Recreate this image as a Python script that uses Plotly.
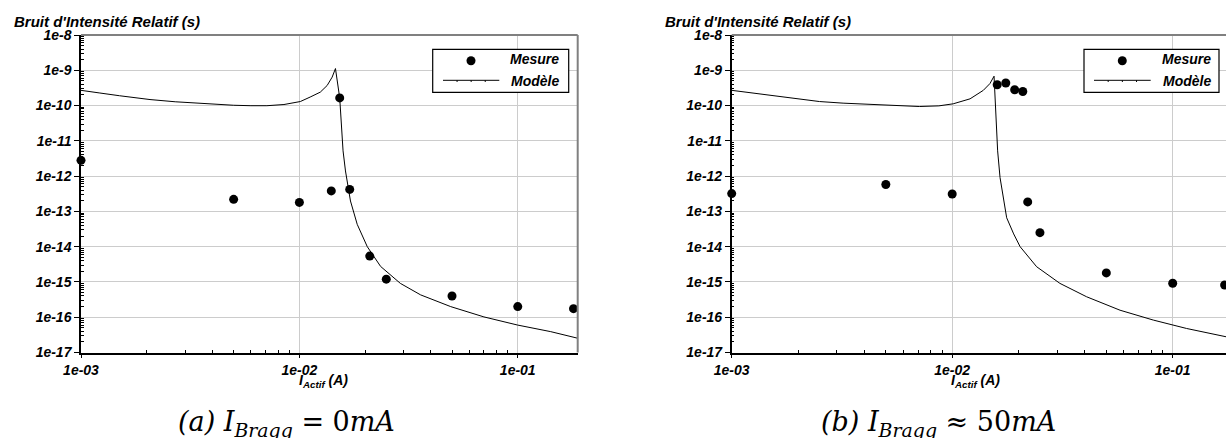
import plotly.graph_objects as go

# ---------------- data ----------------
left_mesure_x = [1e-3, 5e-3, 1e-2, 1.4e-2, 1.53e-2, 1.7e-2, 2.1e-2, 2.5e-2, 5e-2, 1e-1, 1.8e-1]
left_mesure_y = [2.8e-12, 2.2e-13, 1.8e-13, 3.8e-13, 1.65e-10, 4.2e-13, 5.4e-15, 1.2e-15, 4.0e-16, 2.0e-16, 1.75e-16]

left_model_x = [1.0e-3, 1.1e-3, 1.22e-3, 1.5e-3, 2.07e-3, 2.7e-3, 3.52e-3, 4.2e-3, 5.0e-3, 6.0e-3, 7.1e-3,
                8.5e-3, 1.01e-2, 1.12e-2, 1.247e-2, 1.34e-2, 1.413e-2, 1.463e-2, 1.53e-2, 1.585e-2,
                1.626e-2, 1.714e-2, 1.84e-2, 2.046e-2, 2.355e-2, 2.90e-2, 3.59e-2, 4.93e-2, 7.0e-2,
                9.98e-2, 1.416e-1, 1.90e-1]
left_model_y = [2.7e-10, 2.45e-10, 2.27e-10, 1.9e-10, 1.48e-10, 1.28e-10, 1.16e-10, 1.07e-10, 1.02e-10,
                9.9e-11, 9.9e-11, 1.07e-10, 1.3e-10, 1.74e-10, 2.4e-10, 3.7e-10, 6.4e-10, 1.12e-9,
                1.65e-10, 5.2e-12, 1.4e-12, 1.97e-13, 4.3e-14, 1.0e-14, 2.75e-15, 9.1e-16, 4.3e-16,
                2.0e-16, 1.02e-16, 6.0e-17, 3.9e-17, 2.5e-17]

right_mesure_x = [1e-3, 5e-3, 1e-2, 1.6e-2, 1.75e-2, 1.92e-2, 2.09e-2, 2.2e-2, 2.5e-2, 5e-2, 1e-1, 1.72e-1]
right_mesure_y = [3.2e-13, 5.8e-13, 3.1e-13, 3.9e-10, 4.35e-10, 2.8e-10, 2.5e-10, 1.86e-13, 2.5e-14, 1.8e-15, 9.2e-16, 8.2e-16]

right_model_x = [1.0e-3, 1.2e-3, 1.41e-3, 1.9e-3, 2.5e-3, 3.2e-3, 3.98e-3, 5.2e-3, 7.1e-3, 8.7e-3, 1.01e-2,
                 1.205e-2, 1.384e-2, 1.483e-2, 1.548e-2, 1.607e-2, 1.648e-2, 1.766e-2, 1.9e-2, 2.032e-2,
                 2.415e-2, 3.08e-2, 4.07e-2, 5.77e-2, 8.17e-2, 1.156e-1, 1.75e-1, 1.9e-1]
right_model_y = [2.7e-10, 2.35e-10, 2.1e-10, 1.6e-10, 1.3e-10, 1.17e-10, 1.1e-10, 1.0e-10, 9.4e-11,
                 9.8e-11, 1.12e-10, 1.55e-10, 2.7e-10, 4.2e-10, 6.8e-10, 5.2e-12, 9.1e-13, 6.6e-14,
                 2.3e-14, 1.0e-14, 2.7e-15, 9.1e-16, 3.8e-16, 1.58e-16, 8.3e-17, 4.8e-17, 2.75e-17, 2.5e-17]

y_tickvals = [1e-17, 1e-16, 1e-15, 1e-14, 1e-13, 1e-12, 1e-11, 1e-10, 1e-9, 1e-8]
y_ticktext = ["1e-17", "1e-16", "1e-15", "1e-14", "1e-13", "1e-12", "1e-11", "1e-10", "1e-9", "1e-8"]
x_tickvals = [1e-3, 1e-2, 1e-1]
x_ticktext = ["1e-03", "1e-02", "1e-01"]

y_title = "Bruit d'Intensité Relatif (s)"
x_title = "<i>I</i><sub>Actif</sub> (A)"
legend_names = ["Mesure", "Modèle"]
captions = ["<i>(a) I</i><sub><i>Bragg</i></sub> = 0<i>mA</i>",
            "<i>(b) I</i><sub><i>Bragg</i></sub> ≈ 50<i>mA</i>"]

# ---------------- layout helpers ----------------
W, H = 1226, 438
def px(x):
    return x / W
def py(y):
    return 1 - y / H

SANS = "Liberation Sans"
def bi(size):
    return dict(family=SANS, size=size, color="black", weight="bold", style="italic")

minor_y = [m * 10.0 ** e for e in range(-17, -8) for m in range(2, 10)]
minor_x = [m * 10.0 ** e for e in range(-3, 0) for m in range(2, 10)]

fig = go.Figure()

mk = dict(color="black", size=9, symbol="circle")
fig.add_trace(go.Scatter(x=left_model_x, y=left_model_y, mode="lines",
                         line=dict(color="black", width=1), xaxis="x", yaxis="y", showlegend=False))
fig.add_trace(go.Scatter(x=left_mesure_x, y=left_mesure_y, mode="markers", marker=mk,
                         cliponaxis=False, xaxis="x", yaxis="y", showlegend=False))
fig.add_trace(go.Scatter(x=right_model_x, y=right_model_y, mode="lines",
                         line=dict(color="black", width=1), xaxis="x2", yaxis="y2", showlegend=False))
fig.add_trace(go.Scatter(x=right_mesure_x, y=right_mesure_y, mode="markers", marker=mk,
                         cliponaxis=False, xaxis="x2", yaxis="y2", showlegend=False))

ydom = [py(352.5), py(35)]
left_xdom = [px(81), px(577.7)]
right_xdom = [px(731.7), 1.0]

def xaxis(dom, rng, anchor):
    return dict(type="log", domain=dom, range=rng, anchor=anchor, automargin=False,
                tickmode="array", tickvals=x_tickvals, ticktext=x_ticktext,
                ticks="outside", ticklen=4, tickwidth=1, tickcolor="black",
                tickfont=bi(14), showline=True, linecolor="black", linewidth=1.5,
                showgrid=True, gridcolor="#cccccc", gridwidth=1, zeroline=False,
                minor=dict(tickmode="array", tickvals=minor_x, ticks="inside", ticklen=3,
                           tickcolor="black", tickwidth=1, showgrid=False))

def yaxis(anchor):
    return dict(type="log", domain=ydom, range=[-17, -8], anchor=anchor, automargin=False,
                tickmode="array", tickvals=y_tickvals, ticktext=y_ticktext,
                ticks="outside", ticklen=5, tickwidth=1, tickcolor="black",
                tickfont=bi(14), showline=True, linecolor="black", linewidth=1.5,
                showgrid=True, gridcolor="#cccccc", gridwidth=1, zeroline=False,
                minor=dict(tickmode="array", tickvals=minor_y, ticks="inside", ticklen=3,
                           tickcolor="black", tickwidth=1, showgrid=False))

fig.update_layout(
    width=W, height=H, margin=dict(l=0, r=0, t=0, b=0, autoexpand=False),
    paper_bgcolor="white", plot_bgcolor="white", showlegend=False,
    xaxis=xaxis(left_xdom, [-3, -0.7255], "y"),
    yaxis=yaxis("x"),
    xaxis2=xaxis(right_xdom, [-3, -0.7583], "y2"),
    yaxis2=yaxis("x2"),
)

shapes = []
annotations = []
for xr, yr, right in [("x domain", "y domain", True), ("x2 domain", "y2 domain", False)]:
    shapes.append(dict(type="line", xref=xr, yref=yr, x0=0, x1=1, y0=1, y1=1,
                       line=dict(color="#808080", width=2)))
    if right:
        shapes.append(dict(type="line", xref=xr, yref=yr, x0=1, x1=1, y0=0, y1=1,
                           line=dict(color="#808080", width=2)))

panels = [
    dict(title_x=12, leg=(432.7, 568.7), mark=471, line=(443, 499.3), txt_end=561,
         xt=323.5, cap=286.5),
    dict(title_x=663, leg=(1084, 1219), mark=1122.3, line=(1094, 1150.7), txt_end=1213,
         xt=975, cap=938),
]
for i, p in enumerate(panels):
    annotations.append(dict(text=y_title, xref="paper", yref="paper", x=px(p["title_x"]), y=py(21.5),
                            xanchor="left", yanchor="middle", showarrow=False, font=bi(15)))
    annotations.append(dict(text=x_title, xref="paper", yref="paper", x=px(p["xt"]), y=py(381),
                            xanchor="center", yanchor="middle", showarrow=False, font=bi(14)))
    annotations.append(dict(text=captions[i], xref="paper", yref="paper", x=px(p["cap"]), y=py(423),
                            xanchor="center", yanchor="middle", showarrow=False,
                            font=dict(family="DejaVu Serif", size=27, color="black")))
    x0, x1 = p["leg"]
    shapes.append(dict(type="rect", xref="paper", yref="paper", x0=px(x0), x1=px(x1),
                       y0=py(92.3), y1=py(49.3), line=dict(color="black", width=1.2),
                       fillcolor="white", layer="above"))
    r = 4.5
    shapes.append(dict(type="circle", xref="paper", yref="paper",
                       x0=px(p["mark"] - r), x1=px(p["mark"] + r), y0=py(60.7 + r), y1=py(60.7 - r),
                       line=dict(color="black", width=0), fillcolor="black", layer="above"))
    l0, l1 = p["line"]
    shapes.append(dict(type="line", xref="paper", yref="paper", x0=px(l0), x1=px(l1),
                       y0=py(80.3), y1=py(80.3), line=dict(color="black", width=1), layer="above"))
    for k in range(1, 4):
        xx = l0 + (l1 - l0) * k / 4
        shapes.append(dict(type="line", xref="paper", yref="paper", x0=px(xx), x1=px(xx),
                           y0=py(80.3), y1=py(82), line=dict(color="black", width=1), layer="above"))
    annotations.append(dict(text=legend_names[0], xref="paper", yref="paper", x=px(p["txt_end"]),
                            y=py(59), xanchor="right", yanchor="middle", showarrow=False, font=bi(14)))
    annotations.append(dict(text=legend_names[1], xref="paper", yref="paper", x=px(p["txt_end"]),
                            y=py(80.5), xanchor="right", yanchor="middle", showarrow=False, font=bi(14)))

fig.update_layout(shapes=shapes, annotations=annotations)
fig.write_html("out.html")
